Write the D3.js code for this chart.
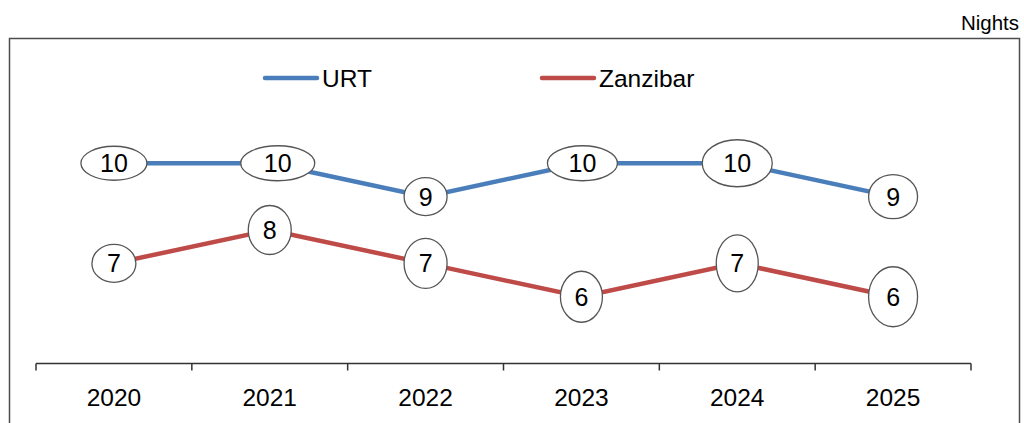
<!DOCTYPE html>
<html>
<head>
<meta charset="utf-8">
<script src="https://cdnjs.cloudflare.com/ajax/libs/d3/7.8.5/d3.min.js"></script>
<style>
  html, body { margin: 0; padding: 0; background: #fff; }
  svg { display: block; font-family: "Liberation Sans", Arial, Helvetica, sans-serif; }
</style>
</head>
<body>
<div id="chart"></div>
<script>
// data
var years = ["2020", "2021", "2022", "2023", "2024", "2025"];
var urt = [10, 10, 9, 10, 10, 9];
var zanzibar = [7, 8, 7, 6, 7, 6];
var seriesNames = ["URT", "Zanzibar"];
var unitLabel = "Nights";

// label bubble shapes (rx, ry, dx) - styling only
var urtBubbles = [[33, 17, 0], [37, 17.5, 8], [21.5, 19, 0], [35, 17.5, 1], [35, 23.5, 0], [24.5, 22, 0]];
var zanBubbles = [[22, 19, 0], [21.5, 24.5, 0], [21.5, 25, 0], [21, 25.5, 0], [21, 28.5, 0], [24.5, 30, 0]];

var colors = ["#4a7ebb", "#be4b48"];

var w = 1024, h = 423;

var svg = d3.select("#chart")
    .append("svg")
    .attr("width", w)
    .attr("height", h);

// outer frame
svg.append("rect")
    .attr("x", 9.5)
    .attr("y", 38.5)
    .attr("width", 1010)
    .attr("height", 420)
    .attr("fill", "none")
    .attr("stroke", "#4d4d4d")
    .attr("stroke-width", 1.5);

svg.append("text")
    .attr("x", 1019)
    .attr("y", 29.5)
    .attr("text-anchor", "end")
    .style("font-size", "20.5px")
    .attr("fill", "#000")
    .text(unitLabel);

var x = d3.scaleBand()
    .domain(years)
    .range([36, 971])
    .padding(0);

var y = d3.scaleLinear()
    .domain([4, 12])
    .range([363.5, 96.5]);

// x axis
var axisY = y(4);
svg.append("line")
    .attr("x1", x.range()[0])
    .attr("x2", x.range()[1])
    .attr("y1", axisY)
    .attr("y2", axisY)
    .attr("stroke", "#333")
    .attr("stroke-width", 1.5);

var tickPos = years.map(function(d){ return x(d); }).concat([x.range()[1]]);
svg.selectAll(".tick")
    .data(tickPos)
    .enter().append("line")
    .attr("x1", function(d){ return d; })
    .attr("x2", function(d){ return d; })
    .attr("y1", axisY)
    .attr("y2", axisY + 7)
    .attr("stroke", "#333")
    .attr("stroke-width", 1.5);

svg.selectAll(".year")
    .data(years)
    .enter().append("text")
    .attr("x", function(d){ return x(d) + x.bandwidth() / 2; })
    .attr("y", 405.5)
    .attr("text-anchor", "middle")
    .style("font-size", "24.5px")
    .attr("fill", "#000")
    .text(function(d){ return d; });

// legend
var legendX = [265, 542];
seriesNames.forEach(function(name, i){
    svg.append("line")
        .attr("x1", legendX[i])
        .attr("x2", legendX[i] + 52)
        .attr("y1", 78)
        .attr("y2", 78)
        .attr("stroke", colors[i])
        .attr("stroke-width", 4.5)
        .attr("stroke-linecap", "round");
    svg.append("text")
        .attr("x", legendX[i] + 57)
        .attr("y", 87)
        .style("font-size", "24.5px")
        .attr("fill", "#000")
        .text(name);
});

// lines
var cx = function(i){ return x(years[i]) + x.bandwidth() / 2; };
var line = d3.line()
    .x(function(d, i){ return cx(i); })
    .y(function(d){ return y(d); });

var allSeries = [urt, zanzibar];
var allBubbles = [urtBubbles, zanBubbles];

allSeries.forEach(function(values, s){
    svg.append("path")
        .datum(values)
        .attr("d", line)
        .attr("fill", "none")
        .attr("stroke", colors[s])
        .attr("stroke-width", 4.5);
});

allSeries.forEach(function(values, s){
    var g = svg.append("g");
    values.forEach(function(v, i){
        var b = allBubbles[s][i];
        g.append("ellipse")
            .attr("cx", cx(i) + b[2])
            .attr("cy", y(v))
            .attr("rx", b[0])
            .attr("ry", b[1])
            .attr("fill", "#fff")
            .attr("stroke", "#555")
            .attr("stroke-width", 1.3);
        g.append("text")
            .attr("x", cx(i) + b[2])
            .attr("y", y(v))
            .attr("dy", "0.36em")
            .attr("text-anchor", "middle")
            .style("font-size", "25px")
            .attr("fill", "#000")
            .text(v);
    });
});
</script>
</body>
</html>
